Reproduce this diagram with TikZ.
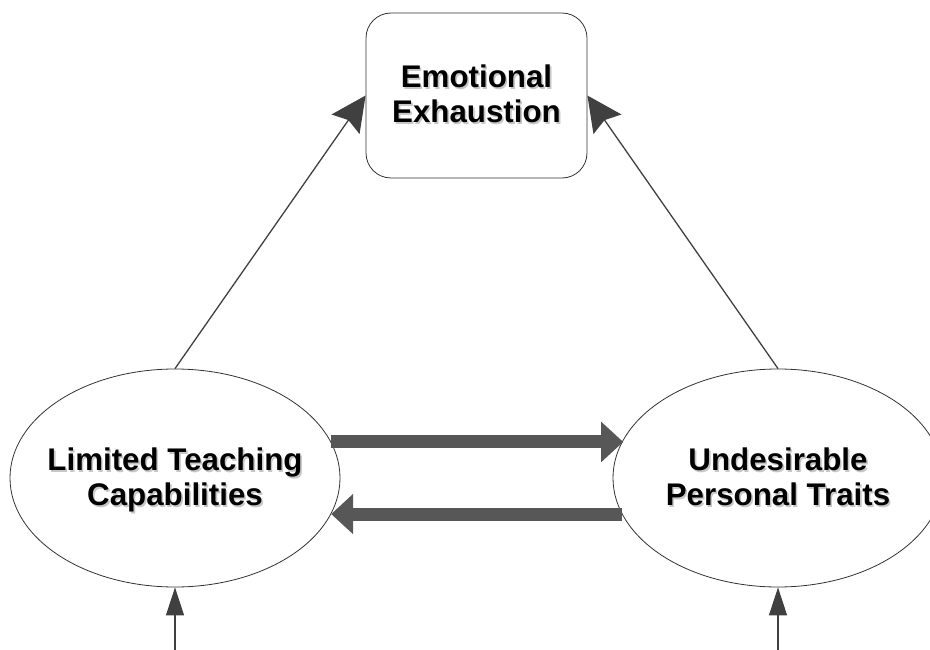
\documentclass[tikz,border=0pt]{standalone}
\usepackage{fontspec}
\setmainfont{Liberation Sans}
\usetikzlibrary{arrows.meta,shapes.geometric}
\definecolor{linegray}{HTML}{404040}
\definecolor{fatgray}{HTML}{575757}
\newcommand\shd[1]{\strut\makebox[0pt][l]{\hspace{1.6pt}\raisebox{-1.6pt}{\textcolor{black!22}{#1}}}#1}
\tikzset{
  lbl/.style={font=\fontsize{31.3}{35}\selectfont\bfseries, align=center, text=black, yshift=-3pt},
  oval/.style={ellipse, draw=black!80, line width=0.8pt, fill=white, minimum width=330pt, minimum height=218pt, inner sep=0pt},
  rbox/.style={draw=black!80, line width=0.8pt, fill=white, rounded corners=25pt, minimum width=221pt, minimum height=165pt, inner sep=0pt},
  thin/.style={draw=linegray, line width=1.3pt, -{Stealth[length=35pt,width=34pt,inset=5pt]}},
  thinlow/.style={draw=linegray, line width=1.3pt, -{Triangle[length=28pt,width=18pt]}},
  fat/.style={draw=fatgray, line width=13pt, -{Triangle[length=22pt,width=39pt]}},
}
\begin{document}
\begin{tikzpicture}[x=1pt,y=-1pt]
\useasboundingbox (0,0) rectangle (930,650);
\clip (0,0) rectangle (930,650);
\node[rbox] (E) at (476.5,95.5) {};
\node[lbl] at (E.center) {\shd{Emotional}\\\shd{Exhaustion}};
\node[oval] (L) at (175,478) {};
\node[lbl] at (L.center) {\shd{Limited Teaching}\\\shd{Capabilities}};
\node[oval] (R) at (778,478) {};
\node[lbl] at (R.center) {\shd{Undesirable}\\\shd{Personal Traits}};
\coordinate (Lb) at (175,650);
\coordinate (Rb) at (778,650);
\draw[thin] (L.north) -- (E.west);
\draw[thin] (R.north) -- (E.east);
\draw[thinlow] (Lb) -- (L.south);
\draw[thinlow] (Rb) -- (R.south);
\draw[fat] (L.13.8) -- (L.13.8 -| R.166.1);
\draw[fat] (R.193.6) -- (R.193.6 -| L.-13.6);
\end{tikzpicture}
\end{document}
